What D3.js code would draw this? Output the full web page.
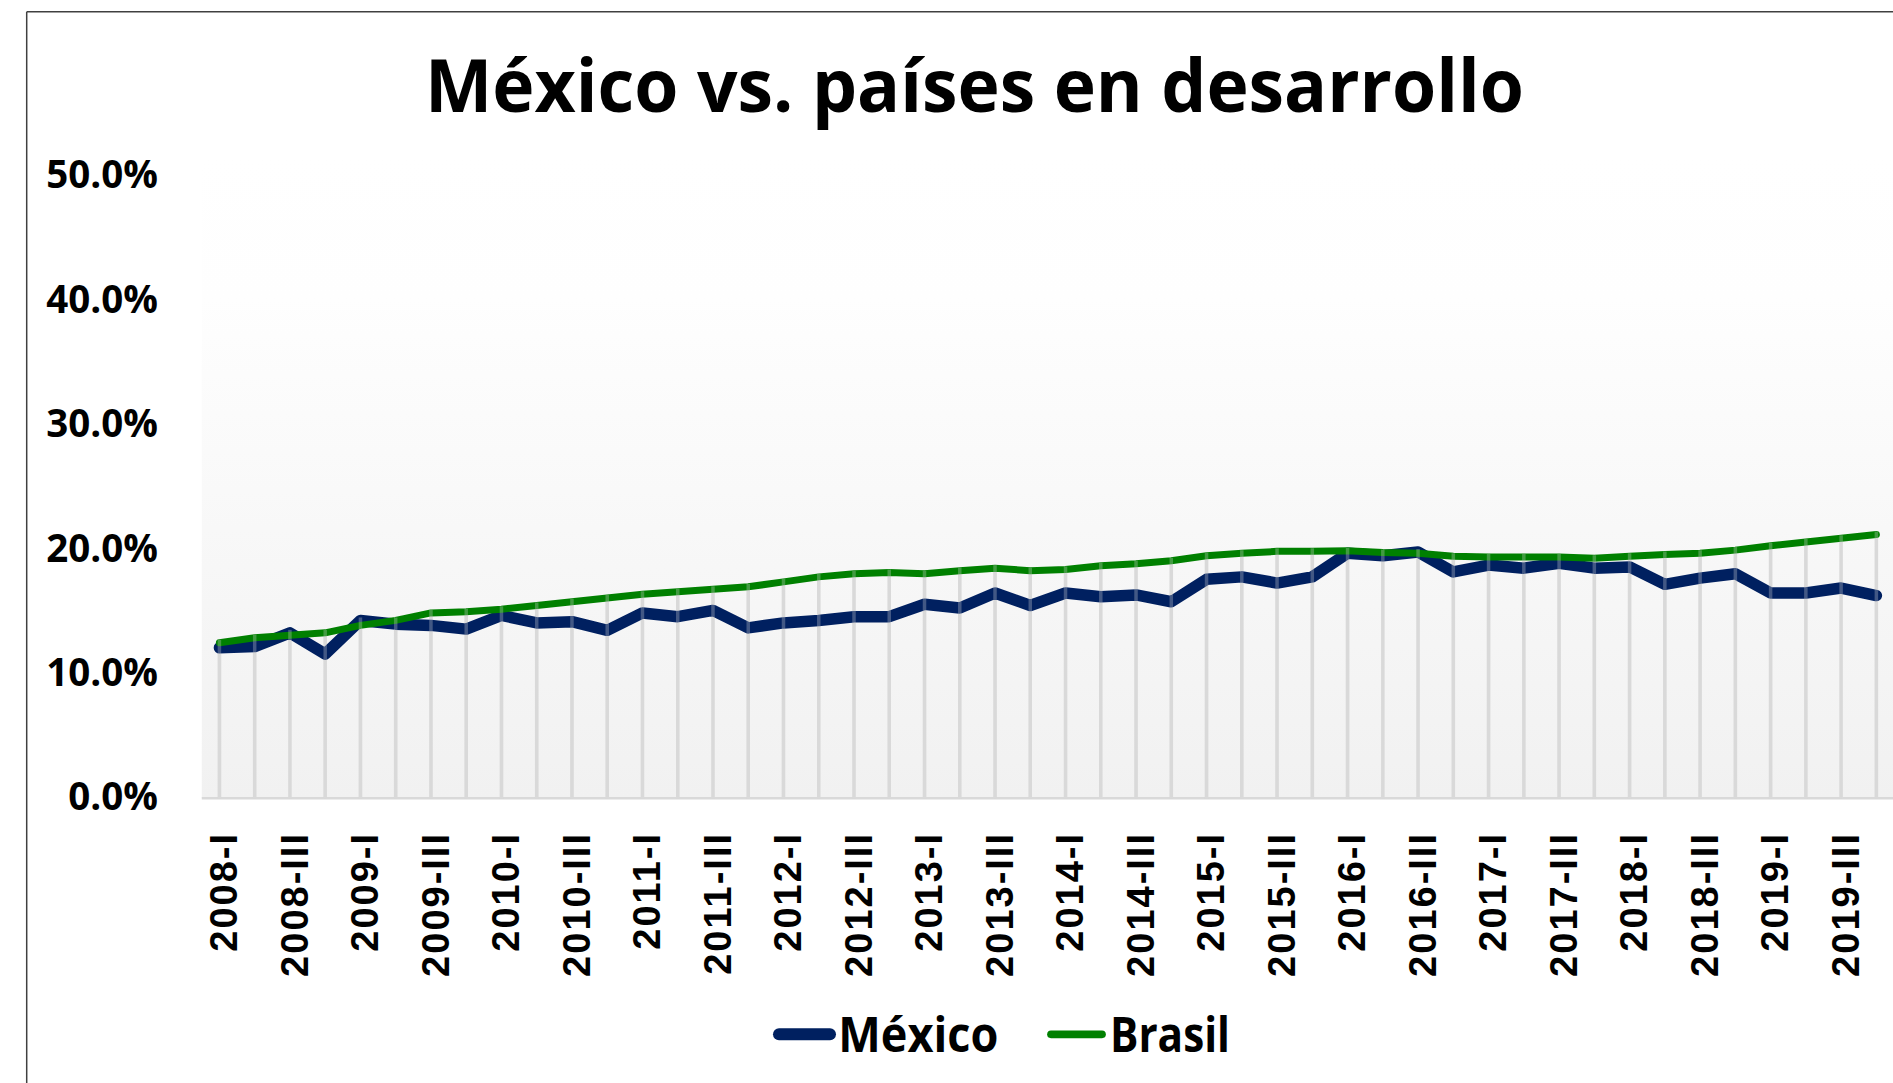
<!DOCTYPE html>
<html><head><meta charset="utf-8">
<script src="https://cdn.jsdelivr.net/npm/d3@7"></script>
<style>body{margin:0;background:#fff;overflow:hidden;} svg{display:block;}</style>
</head><body>
<svg id="c" width="1893" height="1083"></svg>
<script>
const categories = [
 "2008-I","2008-II","2008-III","2008-IV","2009-I","2009-II","2009-III","2009-IV",
 "2010-I","2010-II","2010-III","2010-IV","2011-I","2011-II","2011-III","2011-IV",
 "2012-I","2012-II","2012-III","2012-IV","2013-I","2013-II","2013-III","2013-IV",
 "2014-I","2014-II","2014-III","2014-IV","2015-I","2015-II","2015-III","2015-IV",
 "2016-I","2016-II","2016-III","2016-IV","2017-I","2017-II","2017-III","2017-IV",
 "2018-I","2018-II","2018-III","2018-IV","2019-I","2019-II","2019-III","2019-IV"];
const mexico = [
 12.1,12.2,13.3,11.6,14.3,14.0,13.9,13.6,14.7,14.1,14.2,13.5,14.9,14.6,15.1,13.7,
 14.1,14.3,14.6,14.6,15.6,15.3,16.5,15.5,16.5,16.2,16.35,15.8,17.6,17.8,17.3,17.8,
 19.7,19.5,19.8,18.2,18.75,18.5,18.9,18.5,18.6,17.2,17.7,18.05,16.5,16.5,16.9,16.3];
const brasil = [
 12.5,12.9,13.1,13.3,13.9,14.3,14.9,15.0,15.2,15.5,15.8,16.1,16.4,16.6,16.8,17.0,
 17.4,17.8,18.05,18.15,18.05,18.3,18.5,18.3,18.4,18.7,18.85,19.1,19.5,19.7,19.85,19.85,
 19.9,19.75,19.7,19.45,19.4,19.4,19.4,19.3,19.45,19.6,19.7,19.95,20.3,20.6,20.9,21.2];
const yTicks = [0, 10, 20, 30, 40, 50];
const xTickLabels = categories.filter((d, i) => i % 2 === 0);
const seriesNames = ["México", "Brasil"];
const seriesColors = ["#002060", "#008000"];
const titleText = "México vs. países en desarrollo";

const svg = d3.select("#c");
const W = 1893, H = 1083;
const plot = {left: 201.8, right: 1894, top: 176.3, bottom: 798.3};

const x = d3.scaleBand().domain(categories).range([plot.left, plot.right]).paddingInner(0).paddingOuter(0);
const cx = d => x(d) + x.bandwidth() / 2;
const y = d3.scaleLinear().domain([0, 50]).range([plot.bottom, plot.top]);

// frame
svg.append("line").attr("x1", 26.7).attr("x2", W).attr("y1", 11.7).attr("y2", 11.7)
  .attr("stroke", "#404040").attr("stroke-width", 1.5);
svg.append("line").attr("x1", 26.7).attr("x2", 26.7).attr("y1", 11.7).attr("y2", H)
  .attr("stroke", "#404040").attr("stroke-width", 1.5);

// gradient plot background
const defs = svg.append("defs");
const grad = defs.append("linearGradient").attr("id", "bg").attr("x1", 0).attr("y1", 0).attr("x2", 0).attr("y2", 1);
grad.append("stop").attr("offset", "0%").attr("stop-color", "#ffffff");
grad.append("stop").attr("offset", "22%").attr("stop-color", "#fefefe");
grad.append("stop").attr("offset", "100%").attr("stop-color", "#f1f1f1");
svg.append("rect").attr("x", plot.left).attr("y", plot.top - 20)
  .attr("width", plot.right - plot.left).attr("height", plot.bottom - plot.top + 20)
  .attr("fill", "url(#bg)");

// title
svg.append("text").attr("x", 974.5).attr("y", 112).attr("text-anchor", "middle")
  .attr("font-family", "'Open Sans', sans-serif").attr("font-weight", 700)
  .attr("font-size", 74).attr("textLength", 1099).attr("lengthAdjust", "spacingAndGlyphs")
  .attr("fill", "#000").text(titleText);

// y axis
const yAxis = d3.axisLeft(y).tickValues(yTicks).tickSize(0).tickPadding(0)
  .tickFormat(d => d3.format(".1f")(d) + "%");
const gy = svg.append("g").attr("transform", `translate(158,0)`).call(yAxis);
gy.select(".domain").remove();
gy.selectAll("text").attr("font-family", "'Open Sans', sans-serif").attr("font-weight", 700)
  .attr("font-size", 38.5).attr("fill", "#000").attr("dy", "0.3em").attr("text-anchor", "end");

// baseline
svg.append("line").attr("x1", plot.left).attr("x2", plot.right).attr("y1", y(0)).attr("y2", y(0))
  .attr("stroke", "#d9d9d9").attr("stroke-width", 2.5);

// drop lines (under)
const maxv = categories.map((c, i) => Math.max(mexico[i], brasil[i]));
svg.append("g").selectAll("line").data(categories).join("line")
  .attr("x1", d => cx(d)).attr("x2", d => cx(d))
  .attr("y1", (d, i) => y(maxv[i]) - 3).attr("y2", y(0))
  .attr("stroke", "#d9d9d9").attr("stroke-width", 3.5);

// lines
const line = arr => d3.line().x((d, i) => cx(categories[i])).y(d => y(d))(arr);
svg.append("path").attr("d", line(mexico)).attr("fill", "none").attr("stroke", seriesColors[0])
  .attr("stroke-width", 11.5).attr("stroke-linejoin", "round").attr("stroke-linecap", "round");
svg.append("path").attr("d", line(brasil)).attr("fill", "none").attr("stroke", seriesColors[1])
  .attr("stroke-width", 7).attr("stroke-linejoin", "round").attr("stroke-linecap", "round");

// drop lines (over, translucent)
svg.append("g").selectAll("line").data(categories).join("line")
  .attr("x1", d => cx(d)).attr("x2", d => cx(d))
  .attr("y1", (d, i) => y(maxv[i]) - 3).attr("y2", y(0))
  .attr("stroke", "#d9d9d9").attr("stroke-width", 3.5).attr("stroke-opacity", 0.3);

// x axis labels
const xAxis = d3.axisBottom(x).tickValues(xTickLabels).tickSize(0).tickPadding(0);
const gx = svg.append("g").attr("transform", `translate(0,832)`).call(xAxis);
gx.select(".domain").remove();
gx.selectAll(".tick text")
  .attr("font-family", "'Liberation Sans', Arial, sans-serif").attr("font-weight", 700)
  .attr("font-size", 38).attr("letter-spacing", "2px").attr("fill", "#000")
  .attr("text-anchor", "end").attr("transform", "translate(4,0) rotate(-90)")
  .attr("x", 0).attr("y", 0).attr("dy", "0.36em");

// legend
const legend = [
  {name: seriesNames[0], color: seriesColors[0], x1: 779, x2: 830, sw: 12, tx: 838.3, tw: 160},
  {name: seriesNames[1], color: seriesColors[1], x1: 1051, x2: 1102, sw: 7.7, tx: 1110, tw: 120}
];
const lg = svg.append("g");
legend.forEach(l => {
  lg.append("line").attr("x1", l.x1).attr("x2", l.x2).attr("y1", 1034.3).attr("y2", 1034.3)
    .attr("stroke", l.color).attr("stroke-width", l.sw).attr("stroke-linecap", "round");
  lg.append("text").attr("x", l.tx).attr("y", 1051.7)
    .attr("font-family", "'Open Sans', sans-serif").attr("font-weight", 700)
    .attr("font-size", 49).attr("textLength", l.tw).attr("lengthAdjust", "spacingAndGlyphs")
    .attr("fill", "#000").text(l.name);
});
</script>
</body></html>
